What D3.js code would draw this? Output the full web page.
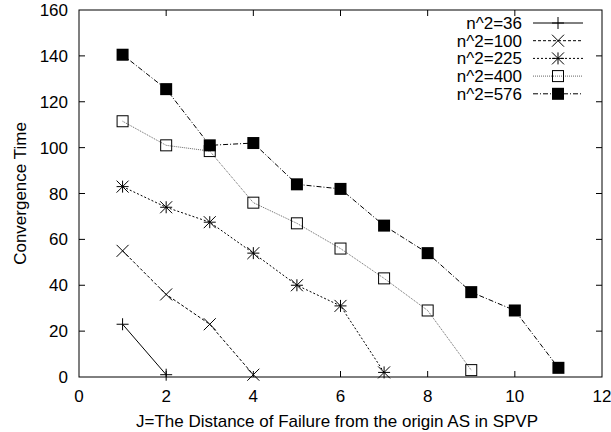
<!DOCTYPE html>
<html>
<head>
<meta charset="utf-8">
<script src="https://cdn.jsdelivr.net/npm/d3@7"></script>
<style>
  body { margin: 0; background: #fff; }
  text { font-family: "Liberation Sans", Arial, sans-serif; }
</style>
</head>
<body>
<script>
const xTicks = [0, 2, 4, 6, 8, 10, 12];
const yTicks = [0, 20, 40, 60, 80, 100, 120, 140, 160];

const s36 = [[1, 23], [2, 1]];
const s100 = [[1, 55], [2, 36], [3, 23], [4, 1]];
const s225 = [[1, 83], [2, 74], [3, 67.5], [4, 54], [5, 40], [6, 31], [7, 2]];
const s400 = [[1, 111.5], [2, 101], [3, 98.5], [4, 76], [5, 67], [6, 56], [7, 43], [8, 29], [9, 3]];
const s576 = [[1, 140.5], [2, 125.5], [3, 101], [4, 102], [5, 84], [6, 82], [7, 66], [8, 54], [9, 37], [10, 29], [11, 4]];

const seriesNames = ["n^2=36", "n^2=100", "n^2=225", "n^2=400", "n^2=576"];

const width = 611;
const height = 432;
const margin = { left: 79, right: 9, top: 10, bottom: 55 };

const svg = d3.select("body")
  .append("svg")
  .attr("width", width)
  .attr("height", height);

const xScale = d3.scaleLinear()
  .domain([0, 12])
  .range([margin.left, width - margin.right]);

const yScale = d3.scaleLinear()
  .domain([0, 160])
  .range([height - margin.bottom, margin.top]);

const x0 = xScale(0), x1 = xScale(12), y0 = yScale(0), y1 = yScale(160);
const tick = 6;

// ticks on all four sides, gnuplot style
const ticks = svg.append("g").attr("stroke", "#000").attr("stroke-width", 1);
xTicks.forEach((t) => {
  if (t === 0 || t === 12) return;
  ticks.append("line").attr("x1", xScale(t)).attr("x2", xScale(t)).attr("y1", y0).attr("y2", y0 - tick);
  ticks.append("line").attr("x1", xScale(t)).attr("x2", xScale(t)).attr("y1", y1).attr("y2", y1 + tick);
});
yTicks.forEach((t) => {
  if (t === 0 || t === 160) return;
  ticks.append("line").attr("x1", x0).attr("x2", x0 + tick).attr("y1", yScale(t)).attr("y2", yScale(t));
  ticks.append("line").attr("x1", x1).attr("x2", x1 - tick).attr("y1", yScale(t)).attr("y2", yScale(t));
});

svg.append("rect")
  .attr("x", x0).attr("y", y1)
  .attr("width", x1 - x0).attr("height", y0 - y1)
  .attr("fill", "none").attr("stroke", "#000").attr("stroke-width", 1);

svg.append("g").selectAll("text")
  .data(xTicks).enter().append("text")
  .attr("x", (d) => xScale(d))
  .attr("y", y0 + 25)
  .attr("text-anchor", "middle")
  .style("font-size", "17px")
  .text((d) => d);

svg.append("g").selectAll("text")
  .data(yTicks).enter().append("text")
  .attr("x", x0 - 11)
  .attr("y", (d) => yScale(d) + 6)
  .attr("text-anchor", "end")
  .style("font-size", "17px")
  .text((d) => d);

svg.append("text")
  .attr("x", 337)
  .attr("y", 427)
  .attr("text-anchor", "middle")
  .style("font-size", "17px")
  .text("J=The Distance of Failure from the origin AS in SPVP");

svg.append("text")
  .attr("transform", `translate(26, ${(y0 + y1) / 2}) rotate(-90)`)
  .attr("text-anchor", "middle")
  .style("font-size", "17px")
  .text("Convergence Time");

const styles = [
  { data: s36, dash: null, stroke: "#000", marker: "plus" },
  { data: s100, dash: "3,2", stroke: "#000", marker: "cross" },
  { data: s225, dash: "2,2", stroke: "#000", marker: "star" },
  { data: s400, dash: "1,1", stroke: "#666", marker: "box" },
  { data: s576, dash: "5,2,1,2", stroke: "#000", marker: "fbox" }
];

function drawMarker(g, type, cx, cy) {
  const r = 6;
  if (type === "plus" || type === "star") {
    g.append("line").attr("x1", cx - r).attr("x2", cx + r).attr("y1", cy).attr("y2", cy).attr("stroke", "#000");
    g.append("line").attr("x1", cx).attr("x2", cx).attr("y1", cy - r).attr("y2", cy + r).attr("stroke", "#000");
  }
  if (type === "cross" || type === "star") {
    g.append("line").attr("x1", cx - r).attr("x2", cx + r).attr("y1", cy - r).attr("y2", cy + r).attr("stroke", "#000");
    g.append("line").attr("x1", cx - r).attr("x2", cx + r).attr("y1", cy + r).attr("y2", cy - r).attr("stroke", "#000");
  }
  if (type === "box") {
    g.append("rect").attr("x", cx - 5.5).attr("y", cy - 5.5).attr("width", 11).attr("height", 11)
      .attr("fill", "none").attr("stroke", "#000");
  }
  if (type === "fbox") {
    g.append("rect").attr("x", cx - 6).attr("y", cy - 6).attr("width", 12).attr("height", 12)
      .attr("fill", "#000");
  }
}

const line = d3.line()
  .x((d) => xScale(d[0]))
  .y((d) => yScale(d[1]));

styles.forEach((s, i) => {
  svg.append("path")
    .datum(s.data)
    .attr("d", line)
    .attr("fill", "none")
    .attr("stroke", s.stroke)
    .attr("stroke-width", 1)
    .attr("stroke-dasharray", s.dash);

  const g = svg.append("g");
  s.data.forEach((d) => drawMarker(g, s.marker, xScale(d[0]), yScale(d[1])));

  // legend
  const ly = 23 + i * 17.7;
  svg.append("text")
    .attr("x", 522)
    .attr("y", ly + 6)
    .attr("text-anchor", "end")
    .style("font-size", "17px")
    .text(seriesNames[i]);
  svg.append("line")
    .attr("x1", 533).attr("x2", 583)
    .attr("y1", ly).attr("y2", ly)
    .attr("stroke", s.stroke)
    .attr("stroke-dasharray", s.dash);
  drawMarker(svg.append("g"), s.marker, 558, ly);
});
</script>
</body>
</html>
